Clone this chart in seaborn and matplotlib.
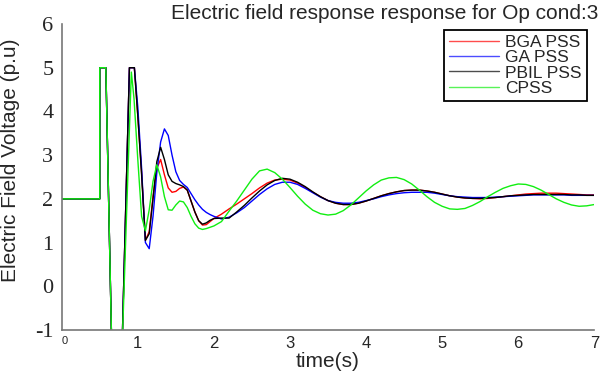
import numpy as np
import matplotlib
matplotlib.use("Agg")
import matplotlib.pyplot as plt
import seaborn as sns

sns.set_style("white")
plt.rcParams['font.family'] = ['Liberation Sans', 'DejaVu Sans']
plt.rcParams['axes.unicode_minus'] = False

# ---------- DATA ----------
# step part (fault + clearing), same for the three optimised PSS
t_head = [0, 0.5, 0.5, 0.58, 0.66, 0.79, 0.89, 0.955]
v_head = [2.0, 2.0, 5.0, 5.0, -1.6, -1.6, 5.0, 5.0]
t_head_cpss = [0, 0.5, 0.5, 0.58, 0.66, 0.79, 0.915, 0.95]
v_head_cpss = [2.0, 2.0, 5.0, 5.0, -1.6, -1.6, 4.9, 4.3]

# common time grid after clearing
t_dyn = [1.00, 1.05, 1.10, 1.15, 1.20, 1.25, 1.30, 1.35, 1.40, 1.45, 1.50,
         1.55, 1.60, 1.65, 1.70, 1.75, 1.80, 1.85, 1.90, 1.95, 2.00,
         2.1, 2.2, 2.3, 2.4, 2.5, 2.6, 2.7, 2.8, 2.9, 3.0,
         3.1, 3.2, 3.3, 3.4, 3.5, 3.6, 3.7, 3.8, 3.9, 4.0,
         4.1, 4.2, 4.3, 4.4, 4.5, 4.6, 4.7, 4.8, 4.9, 5.0,
         5.1, 5.2, 5.3, 5.4, 5.5, 5.6, 5.7, 5.8, 5.9, 6.0,
         6.1, 6.2, 6.3, 6.4, 6.5, 6.6, 6.7, 6.8, 6.9, 7.0]

bga = [3.9, 2.6, 1.05, 1.25, 2.05, 2.7, 2.9, 2.55, 2.25, 2.15, 2.17,
       2.24, 2.27, 2.2, 1.95, 1.7, 1.5, 1.4, 1.41, 1.48, 1.55,
       1.65, 1.77, 1.88, 2.0, 2.12, 2.25, 2.36, 2.43, 2.45, 2.43,
       2.36, 2.26, 2.15, 2.05, 1.96, 1.9, 1.87, 1.87, 1.9, 1.95,
       2.01, 2.07, 2.12, 2.16, 2.19, 2.2, 2.2, 2.18, 2.15, 2.11,
       2.07, 2.04, 2.02, 2.01, 2.0, 2.01, 2.03, 2.05, 2.07, 2.09,
       2.11, 2.12, 2.13, 2.13, 2.13, 2.12, 2.11, 2.1, 2.09, 2.09]

ga = [4.1, 2.7, 1.0, 0.86, 1.6, 2.6, 3.3, 3.6, 3.45, 3.0, 2.62,
      2.42, 2.33, 2.26, 2.12, 1.98, 1.86, 1.76, 1.69, 1.64, 1.6,
      1.54, 1.58, 1.68, 1.8, 1.95, 2.1, 2.23, 2.33, 2.38, 2.38,
      2.33, 2.24, 2.14, 2.04, 1.96, 1.92, 1.9, 1.9, 1.92, 1.96,
      2.0, 2.05, 2.09, 2.12, 2.14, 2.15, 2.15, 2.15, 2.13, 2.1,
      2.07, 2.05, 2.04, 2.03, 2.03, 2.03, 2.04, 2.05, 2.06, 2.07,
      2.08, 2.09, 2.09, 2.09, 2.09, 2.09, 2.08, 2.08, 2.08, 2.08]

pbil = [3.9, 2.55, 1.05, 1.2, 2.0, 2.85, 3.18, 2.9, 2.55, 2.4, 2.35,
        2.32, 2.28, 2.2, 1.95, 1.7, 1.5, 1.42, 1.45, 1.51, 1.55,
        1.56, 1.56, 1.7, 1.85, 2.02, 2.18, 2.32, 2.42, 2.47, 2.45,
        2.38, 2.28, 2.16, 2.05, 1.96, 1.9, 1.87, 1.87, 1.9, 1.95,
        2.01, 2.07, 2.12, 2.16, 2.19, 2.2, 2.2, 2.18, 2.15, 2.11,
        2.07, 2.04, 2.02, 2.01, 2.01, 2.02, 2.03, 2.05, 2.07, 2.08,
        2.09, 2.1, 2.1, 2.1, 2.1, 2.1, 2.09, 2.09, 2.08, 2.08]

cpss = [2.9, 1.6, 1.27, 1.75, 2.4, 2.78, 2.5, 2.05, 1.75, 1.74, 1.86,
        1.95, 1.93, 1.8, 1.6, 1.43, 1.33, 1.3, 1.32, 1.35, 1.38,
        1.48, 1.72, 1.95, 2.2, 2.45, 2.64, 2.68, 2.6, 2.45, 2.26,
        2.06, 1.88, 1.74, 1.66, 1.63, 1.65, 1.73, 1.86, 2.02, 2.18,
        2.32, 2.43, 2.48, 2.49, 2.44, 2.34, 2.2, 2.05, 1.92, 1.83,
        1.77, 1.76, 1.78, 1.85, 1.94, 2.05, 2.15, 2.24, 2.3, 2.34,
        2.33, 2.28, 2.2, 2.1, 2.0, 1.92, 1.86, 1.83, 1.84, 1.87]

labels = ["BGA PSS", "GA PSS", "PBIL PSS", "CPSS"]
colors = ["#ff0000", "#0000ff", "#000000", "#11ee11"]
x_ticks = [0, 1, 2, 3, 4, 5, 6, 7]
y_ticks = [-1, 0, 1, 2, 3, 4, 5, 6]

# ---------- PLOT ----------
fig = plt.figure(figsize=(6.11, 3.73), dpi=100)
ax = fig.add_axes([0.101, 0.1153, 0.8717, 0.8204])

series = [(t_head + t_dyn, v_head + bga),
          (t_head + t_dyn, v_head + ga),
          (t_head + t_dyn, v_head + pbil),
          (t_head_cpss + t_dyn, v_head_cpss + cpss)]

for (t, v), lab, col in zip(series, labels, colors):
    sns.lineplot(x=t, y=v, ax=ax, color=col, label=lab, linewidth=1.0,
                 sort=False, estimator=None)

ax.set_xlim(0, 7)
ax.set_ylim(-1, 6)
ax.set_xticks(x_ticks)
ax.set_yticks(y_ticks)
ax.set_xticklabels([str(x) for x in x_ticks], fontsize=12)
ax.set_yticklabels([str(y) for y in y_ticks], fontsize=16, family='Liberation Serif')
ax.get_xticklabels()[0].set_fontsize(8)
ax.get_xticklabels()[0].set_horizontalalignment('left')

ax.tick_params(direction='in', length=4, color='#777777', width=1)
ax.tick_params(axis='x', pad=4)
ax.tick_params(axis='y', pad=6)
for side in ['top', 'right']:
    ax.spines[side].set_visible(False)
for side in ['left', 'bottom']:
    ax.spines[side].set_color('#777777')
    ax.spines[side].set_linewidth(1.2)

ax.set_xlabel("time(s)", fontsize=15, labelpad=1)
ax.set_ylabel("Electric Field Voltage (p.u)", fontsize=15)
ax.yaxis.set_label_coords(-0.078, 0.554)

fig.text(0.979, 0.965, "Electric field response response for Op cond:3",
         fontsize=15, ha='right', va='center')

leg = ax.legend(loc='upper right', bbox_to_anchor=(0.961, 0.92),
                bbox_transform=fig.transFigure, fontsize=12.5,
                handlelength=2.9, labelspacing=0.0, borderpad=0.3,
                handletextpad=0.35, fancybox=False, framealpha=1,
                edgecolor='black', borderaxespad=0)
leg.get_frame().set_linewidth(1.3)
for line in leg.get_lines():
    line.set_alpha(0.7)

fig.savefig("out.png", dpi=100)
